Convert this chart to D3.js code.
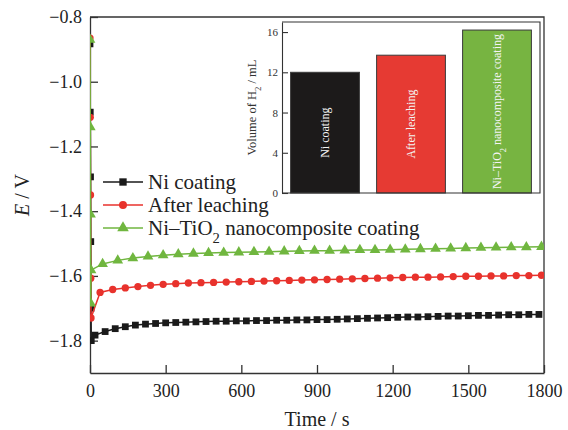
<!DOCTYPE html>
<html>
<head>
<meta charset="utf-8">
<script src="https://cdnjs.cloudflare.com/ajax/libs/d3/7.8.5/d3.min.js"></script>
<style>
  body { margin: 0; background: #fff; }
  svg { font-family: "Liberation Serif", "Times New Roman", serif; }
</style>
</head>
<body>
<svg id="canvas"></svg>
<script>
const WIDTH = 568;
const HEIGHT = 430;

// main plot data (time in s, potential in V)
const niTime = [0, 1, 2, 3, 4, 5, 20, 60, 100, 140, 180, 220, 260, 300, 340, 380, 420, 460, 500, 540, 580, 620, 660, 700, 740, 780, 820, 860, 900, 940, 980, 1020, 1060, 1100, 1140, 1180, 1220, 1260, 1300, 1340, 1380, 1420, 1460, 1500, 1540, 1580, 1620, 1660, 1700, 1740, 1780];
const niE = [-0.883, -1.094, -1.294, -1.494, -1.70, -1.80, -1.783, -1.772, -1.763, -1.757, -1.752, -1.749, -1.747, -1.745, -1.744, -1.743, -1.742, -1.741, -1.740, -1.740, -1.739, -1.739, -1.738, -1.738, -1.737, -1.737, -1.736, -1.736, -1.735, -1.735, -1.734, -1.733, -1.732, -1.731, -1.730, -1.729, -1.728, -1.727, -1.727, -1.726, -1.725, -1.724, -1.724, -1.723, -1.722, -1.722, -1.721, -1.720, -1.720, -1.719, -1.719];

const leachTime = [0, 1, 2, 3, 4, 40, 90, 140, 190, 240, 290, 340, 390, 440, 490, 540, 590, 640, 690, 740, 790, 840, 890, 940, 990, 1040, 1090, 1140, 1190, 1240, 1290, 1340, 1390, 1440, 1490, 1540, 1590, 1640, 1690, 1740, 1790];
const leachE = [-0.865, -1.11, -1.35, -1.607, -1.73, -1.651, -1.642, -1.637, -1.633, -1.629, -1.626, -1.624, -1.622, -1.621, -1.620, -1.619, -1.618, -1.617, -1.616, -1.615, -1.614, -1.613, -1.612, -1.611, -1.610, -1.609, -1.608, -1.607, -1.606, -1.605, -1.604, -1.604, -1.603, -1.602, -1.601, -1.601, -1.600, -1.600, -1.599, -1.599, -1.598];

const tioTime = [0, 1, 2, 3, 4, 50, 110, 170, 230, 290, 350, 410, 470, 530, 590, 650, 710, 770, 830, 890, 950, 1010, 1070, 1130, 1190, 1250, 1310, 1370, 1430, 1490, 1550, 1610, 1670, 1730, 1790];
const tioE = [-0.87, -1.14, -1.41, -1.685, -1.582, -1.563, -1.552, -1.545, -1.540, -1.536, -1.533, -1.531, -1.529, -1.528, -1.527, -1.526, -1.525, -1.524, -1.523, -1.522, -1.522, -1.521, -1.520, -1.520, -1.519, -1.518, -1.517, -1.516, -1.515, -1.514, -1.513, -1.512, -1.511, -1.511, -1.510];

const seriesNames = ["Ni coating", "After leaching", "Ni–TiO_2 nanocomposite coating"];
const seriesColors = ["#1a1a1a", "#e8322c", "#70b63f"];

const xTicks = [0, 300, 600, 900, 1200, 1500, 1800];
const yTicks = [-0.8, -1.0, -1.2, -1.4, -1.6, -1.8];

// inset bar data
const barNames = ["Ni coating", "After leaching", "Ni–TiO_2 nanocomposite coating"];
const barValues = [12.0, 13.7, 16.2];
const barColors = ["#1c1a1a", "#e63a33", "#77b441"];
const insetTicks = [0, 4, 8, 12, 16];

const svg = d3.select("#canvas").attr("width", WIDTH).attr("height", HEIGHT);

// text with "_2" -> subscript 2
const writeText = (sel, str) => {
  const parts = str.split("_");
  sel.append("tspan").text(parts[0]);
  for (let i = 1; i < parts.length; i++) {
    sel.append("tspan").attr("baseline-shift", "sub").attr("font-size", "70%").text(parts[i][0]);
    sel.append("tspan").text(parts[i].slice(1));
  }
};

const m = { left: 90, top: 17, right: 544, bottom: 373 };

const xScale = d3.scaleLinear().domain([0, 1800]).range([m.left, m.right]);
const yScale = d3.scaleLinear().domain([-1.9, -0.8]).range([m.bottom, m.top]);

svg.append("clipPath").attr("id", "plotclip")
  .append("rect")
  .attr("x", m.left).attr("y", m.top)
  .attr("width", m.right - m.left).attr("height", m.bottom - m.top);

// axes
const xAxis = d3.axisBottom(xScale).tickValues(xTicks).tickFormat(d3.format("d"))
  .tickSizeInner(-8).tickSizeOuter(0).tickPadding(11);
const yAxis = d3.axisLeft(yScale).tickValues(yTicks).tickFormat(d3.format(".1f"))
  .tickSizeInner(-8).tickSizeOuter(0).tickPadding(8);

const gx = svg.append("g").attr("transform", `translate(0, ${m.bottom})`).call(xAxis);
const gy = svg.append("g").attr("transform", `translate(${m.left}, 0)`).call(yAxis);
[gx, gy].forEach((g) => {
  g.selectAll("path, line").attr("stroke", "#333").attr("stroke-width", 1.3);
  g.selectAll("text").attr("font-size", 18).attr("fill", "#222")
    .attr("font-family", "Liberation Serif, serif");
});

svg.append("path")
  .attr("d", `M${m.left},${m.top}H${m.right}V${m.bottom}`)
  .attr("fill", "none").attr("stroke", "#333").attr("stroke-width", 1.3);

svg.append("text")
  .attr("x", (m.left + m.right) / 2).attr("y", 426)
  .attr("text-anchor", "middle").attr("font-size", 20).attr("fill", "#222")
  .text("Time / s");

const yt = svg.append("text")
  .attr("transform", `translate(29, ${(m.top + m.bottom) / 2}) rotate(-90)`)
  .attr("text-anchor", "middle").attr("font-size", 20).attr("fill", "#222");
yt.append("tspan").attr("font-style", "italic").text("E");
yt.append("tspan").text(" / V");

// series
const series = [
  { t: niTime, e: niE, sym: d3.symbolSquare, size: 46 },
  { t: leachTime, e: leachE, sym: d3.symbolCircle, size: 42 },
  { t: tioTime, e: tioE, sym: d3.symbolTriangle, size: 50 },
];

const line = d3.line().x((d) => xScale(d[0])).y((d) => yScale(d[1]));
const plot = svg.append("g").attr("clip-path", "url(#plotclip)");

series.forEach((s, i) => {
  const pts = s.t.map((t, k) => [t, s.e[k]]);
  const g = plot.append("g");
  g.append("path").datum(pts).attr("d", line)
    .attr("fill", "none").attr("stroke", seriesColors[i]).attr("stroke-width", 1.5);
  g.selectAll("path.mk").data(pts).enter().append("path").attr("class", "mk")
    .attr("d", d3.symbol().type(s.sym).size(s.size))
    .attr("transform", (d) => `translate(${xScale(d[0])}, ${yScale(d[1])})`)
    .attr("fill", seriesColors[i]);
});

// legend
const legend = svg.append("g");
series.forEach((s, i) => {
  const y = 182 + i * 23;
  legend.append("line").attr("x1", 103).attr("x2", 143).attr("y1", y).attr("y2", y)
    .attr("stroke", seriesColors[i]).attr("stroke-width", 1.5);
  legend.append("path").attr("d", d3.symbol().type(s.sym).size(s.size + 8))
    .attr("transform", `translate(123, ${y})`).attr("fill", seriesColors[i]);
  const t = legend.append("text").attr("x", 148).attr("y", y + 7)
    .attr("font-size", 21).attr("fill", "#222");
  writeText(t, seriesNames[i]);
});

// inset bar chart
const im = { left: 282, top: 22, right: 540, bottom: 193 };
const inset = svg.append("g");
inset.append("rect").attr("x", im.left).attr("y", im.top)
  .attr("width", im.right - im.left).attr("height", im.bottom - im.top).attr("fill", "#fff");

const bx = d3.scaleBand().domain(barNames).range([im.left, im.right]).paddingInner(0.2).paddingOuter(0.1);
const by = d3.scaleLinear().domain([0, 17]).range([im.bottom, im.top]);

inset.selectAll("rect.bar").data(barValues).enter().append("rect").attr("class", "bar")
  .attr("x", (d, i) => bx(barNames[i])).attr("width", bx.bandwidth())
  .attr("y", (d) => by(d)).attr("height", (d) => by(0) - by(d))
  .attr("fill", (d, i) => barColors[i]).attr("stroke", "#3a3a3a").attr("stroke-width", 1);

barValues.forEach((v, i) => {
  const cx = bx(barNames[i]) + bx.bandwidth() / 2;
  const cy = (by(v) + by(0)) / 2;
  const t = inset.append("text")
    .attr("transform", `translate(${cx}, ${cy}) rotate(-90)`)
    .attr("text-anchor", "middle").attr("dy", "0.35em")
    .attr("font-size", 12).attr("fill", "#f4f4f4");
  writeText(t, barNames[i]);
});

const iy = d3.axisLeft(by).tickValues(insetTicks).tickSizeInner(-6).tickSizeOuter(0).tickPadding(4);
const giy = inset.append("g").attr("transform", `translate(${im.left}, 0)`).call(iy);
giy.selectAll("path, line").attr("stroke", "#333").attr("stroke-width", 1.1);
giy.selectAll("text").attr("font-size", 11).attr("fill", "#333").attr("font-family", "Liberation Serif, serif");

inset.append("path")
  .attr("d", `M${im.left},${im.bottom}H${im.right}V${im.top}H${im.left}`)
  .attr("fill", "none").attr("stroke", "#333").attr("stroke-width", 1.1);

const it = inset.append("text")
  .attr("transform", `translate(256, ${(im.top + im.bottom) / 2}) rotate(-90)`)
  .attr("text-anchor", "middle").attr("font-size", 12.5).attr("fill", "#333");
writeText(it, "Volume of H_2 / mL");
</script>
</body>
</html>
